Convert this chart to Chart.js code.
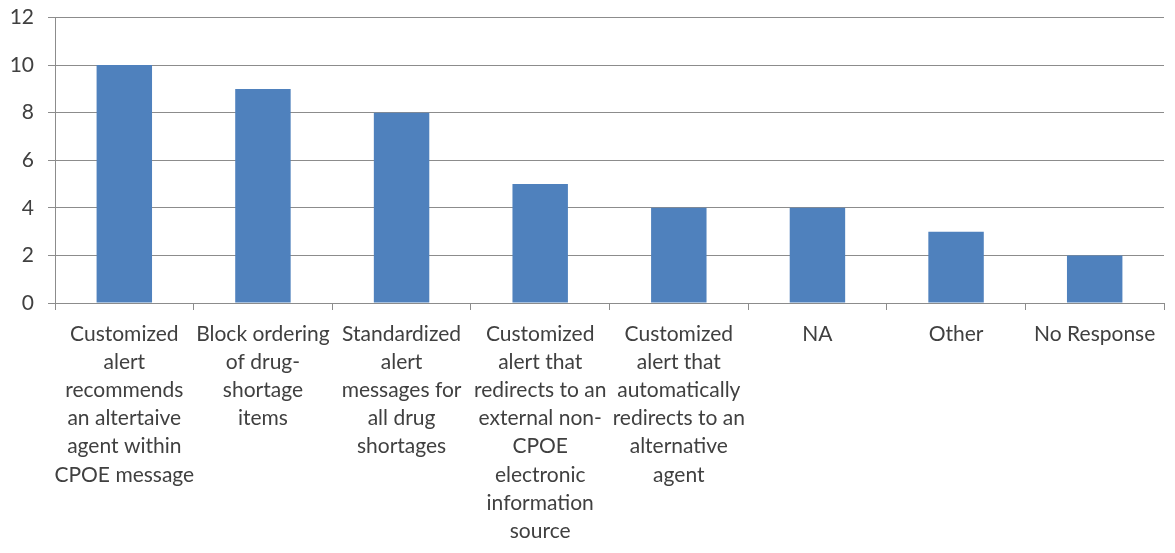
<!DOCTYPE html>
<html>
<head>
<meta charset="utf-8">
<script src="https://cdn.jsdelivr.net/npm/chart.js"></script>
<style>
  html, body { margin: 0; padding: 0; background: #fff; }
  #wrap { width: 1175px; height: 553px; position: relative; }
</style>
</head>
<body>
<div id="wrap"><canvas id="chart"></canvas></div>
<script>
// Categories (multi-line labels) and counts
const categories = [
  ['Customized', 'alert', 'recommends', 'an altertaive', 'agent within', 'CPOE message'],
  ['Block ordering', 'of drug-', 'shortage', 'items'],
  ['Standardized', 'alert', 'messages for', 'all drug', 'shortages'],
  ['Customized', 'alert that', 'redirects to an', 'external non-', 'CPOE', 'electronic', 'information', 'source'],
  ['Customized', 'alert that', 'automatically', 'redirects to an', 'alternative', 'agent'],
  ['NA'],
  ['Other'],
  ['No Response']
];
const counts = [10, 9, 8, 5, 4, 4, 3, 2];
const yTicks = [0, 2, 4, 6, 8, 10, 12];

const gridGrey = '#8c8c8c';
const textGrey = '#404040';
const labelFont = { family: 'Lato, "Open Sans", sans-serif', size: 21, lineHeight: 1.34 };

new Chart(document.getElementById('chart'), {
  type: 'bar',
  data: {
    labels: categories,
    datasets: [{
      data: counts,
      backgroundColor: '#4f81bd',
      borderWidth: 0,
      barPercentage: 0.4,
      categoryPercentage: 1.0
    }]
  },
  options: {
    responsive: true,
    maintainAspectRatio: false,
    animation: false,
    layout: { padding: { top: 17.5, right: 11, left: 0, bottom: 0 } },
    plugins: {
      legend: { display: false },
      tooltip: { enabled: false }
    },
    scales: {
      x: {
        offset: true,
        grid: {
          offset: true,
          drawOnChartArea: false,
          drawTicks: true,
          tickLength: 7,
          color: gridGrey
        },
        border: { color: gridGrey },
        ticks: {
          color: textGrey,
          font: labelFont,
          maxRotation: 0,
          autoSkip: false,
          padding: 10
        },
        afterFit: (scale) => { scale.height = 250; }
      },
      y: {
        min: 0,
        max: 12,
        afterBuildTicks: (scale) => {
          scale.ticks = yTicks.map(v => ({ value: v }));
        },
        grid: {
          color: gridGrey,
          tickLength: 7
        },
        border: { color: gridGrey },
        ticks: {
          color: textGrey,
          font: { family: labelFont.family, size: 21 },
          padding: 14
        },
        afterFit: (scale) => {
          // fixed axis width, and let the top tick label sit in the layout padding
          scale.width = 55;
          scale.paddingTop = 0;
          scale.paddingBottom = 0;
        }
      }
    }
  }
});
</script>
</body>
</html>
